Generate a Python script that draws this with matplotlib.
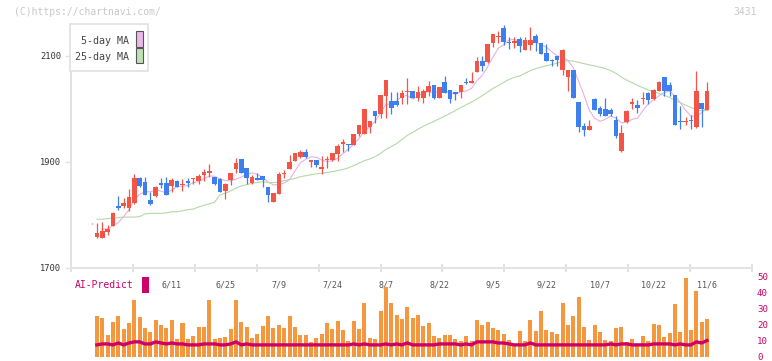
import numpy as np
import pandas as pd
import matplotlib
matplotlib.use("Agg")
import matplotlib.pyplot as plt
from matplotlib.patches import Rectangle

# daily candles 5/21 .. 11/6 (first one has no volume bar)
opens = [1784, 1758, 1757, 1767, 1780, 1817, 1816, 1814, 1822, 1870,
         1862, 1828, 1835, 1860, 1860, 1855, 1864, 1857, 1864, 1867,
         1864, 1875, 1880, 1872, 1868, 1846, 1865, 1887, 1906, 1889,
         1861, 1870, 1874, 1853, 1825, 1840, 1878, 1887, 1902, 1909,
         1919, 1899, 1904, 1886, 1903, 1904, 1914, 1933, 1934, 1932,
         1953, 1952, 1965, 1996, 1990, 2025, 2015, 2015, 2020, 2032,
         2034, 2020, 2021, 2032, 2045, 2021, 2051, 2036, 2032, 2032,
         2051, 2048, 2070, 2091, 2089, 2124, 2135, 2152, 2126, 2125,
         2131, 2111, 2120, 2138, 2125, 2106, 2091, 2100, 2074, 2061,
         2073, 2013, 1968, 1960, 2018, 2001, 1999, 1998, 1979, 1920,
         1975, 2009, 2007, 2019, 2029, 2018, 2034, 2060, 2045, 2026,
         1977, 1976, 1979, 1965, 2012, 1998]
highs = [1785, 1784, 1787, 1782, 1806, 1835, 1832, 1849, 1877, 1872,
         1872, 1843, 1854, 1869, 1872, 1869, 1865, 1867, 1869, 1870,
         1878, 1887, 1896, 1872, 1869, 1860, 1879, 1908, 1906, 1889,
         1875, 1879, 1874, 1853, 1841, 1881, 1884, 1913, 1917, 1923,
         1924, 1904, 1904, 1911, 1911, 1916, 1933, 1943, 1934, 1953,
         1969, 2000, 1977, 1996, 2026, 2055, 2031, 2032, 2035, 2059,
         2034, 2043, 2037, 2053, 2045, 2041, 2062, 2036, 2032, 2045,
         2058, 2069, 2097, 2099, 2123, 2141, 2146, 2159, 2136, 2136,
         2136, 2135, 2155, 2141, 2125, 2122, 2094, 2100, 2113, 2073,
         2073, 2013, 1974, 1979, 2021, 2006, 2020, 2002, 1987, 1969,
         1998, 2021, 2017, 2031, 2031, 2037, 2052, 2060, 2051, 2026,
         2006, 1985, 1988, 2072, 2012, 2050]
lows = [1783, 1757, 1757, 1763, 1779, 1809, 1813, 1808, 1820, 1853,
        1838, 1819, 1833, 1850, 1838, 1844, 1853, 1845, 1852, 1859,
        1859, 1864, 1872, 1857, 1844, 1831, 1857, 1879, 1879, 1859,
        1859, 1865, 1853, 1825, 1825, 1840, 1869, 1887, 1901, 1908,
        1908, 1891, 1891, 1877, 1889, 1902, 1902, 1919, 1921, 1932,
        1948, 1952, 1955, 1974, 1982, 1982, 1990, 2005, 2010, 2009,
        2020, 2015, 2012, 2025, 2018, 2020, 2029, 2012, 2017, 2021,
        2046, 2048, 2069, 2072, 2087, 2116, 2124, 2121, 2113, 2114,
        2108, 2111, 2111, 2109, 2103, 2091, 2080, 2080, 2064, 2033,
        2020, 1957, 1948, 1960, 1998, 1987, 1986, 1986, 1946, 1918,
        1974, 1999, 1993, 2009, 2010, 2016, 2033, 2024, 2024, 1969,
        1962, 1969, 1962, 1963, 1965, 1998]
closes = [1785, 1766, 1770, 1774, 1804, 1813, 1823, 1834, 1870, 1855,
          1838, 1821, 1853, 1857, 1838, 1866, 1853, 1858, 1860, 1869,
          1874, 1881, 1883, 1858, 1844, 1858, 1879, 1898, 1879, 1869,
          1872, 1866, 1866, 1838, 1841, 1877, 1879, 1899, 1917, 1919,
          1910, 1904, 1894, 1890, 1906, 1916, 1930, 1938, 1931, 1953,
          1969, 2000, 1977, 1986, 2026, 2055, 2001, 2007, 2029, 2034,
          2020, 2032, 2034, 2043, 2021, 2041, 2029, 2018, 2028, 2045,
          2048, 2053, 2091, 2080, 2123, 2141, 2136, 2126, 2124, 2128,
          2118, 2130, 2130, 2124, 2104, 2091, 2090, 2092, 2111, 2073,
          2021, 1966, 1960, 1967, 1998, 1991, 1986, 1990, 1948, 1954,
          1996, 2013, 2001, 2020, 2016, 2036, 2050, 2033, 2033, 1969,
          1975, 1977, 1978, 2034, 1999, 2034]

ma25_head = [1792, 1792, 1793, 1794, 1795, 1796, 1796, 1796, 1797, 1802,
             1803, 1803, 1803, 1804, 1806, 1806, 1808, 1810, 1811, 1815,
             1818, 1821, 1824]

volumes = [25.4, 24.2, 13.6, 21.7, 25.4, 17.3, 21.1, 35.4, 24.8, 17.9,
           15.4, 22.9, 19.8, 17.9, 22.9, 11.1, 21.1, 11.1, 12.9, 18.5,
           18.5, 35.4, 11.1, 11.7, 12.3, 17.3, 35.4, 21.7, 18.5, 11.7,
           14.2, 19.2, 25.4, 17.9, 19.8, 17.9, 25.4, 18.5, 13.6, 13.6,
           9.2, 11.7, 14.2, 21.1, 17.3, 22.3, 16.7, 9.8, 22.3, 17.3,
           33.6, 11.7, 11.1, 28.6, 43.6, 33.6, 26.1, 23.6, 31.1, 24.2,
           26.1, 19.2, 21.1, 12.9, 11.7, 13.6, 13.6, 11.1, 9.8, 12.9,
           9.8, 22.9, 19.8, 21.7, 17.9, 16.7, 14.2, 10.4, 7.9, 16.1,
           9.8, 22.9, 16.1, 28.6, 16.7, 15.5, 14.2, 33.6, 19.8, 25.4,
           37.3, 18.5, 10.4, 19.8, 15.4, 10.4, 9.8, 17.9, 18.5, 9.2,
           11.1, 7.3, 12.9, 9.8, 20.4, 19.8, 12.3, 14.8, 32.9, 15.6,
           49.2, 16.7, 41.1, 21.7, 23.6]
ai_predict = [7.3, 7.9, 7.9, 7.3, 8.5, 7.3, 8.5, 9.2, 9.2, 7.9,
              7.9, 9.2, 8.5, 7.9, 8.5, 7.9, 7.9, 7.3, 7.3, 7.3,
              7.9, 7.9, 7.9, 7.3, 7.3, 7.9, 9.2, 7.3, 7.9, 7.3,
              7.3, 7.3, 7.3, 7.3, 7.3, 7.3, 7.3, 7.3, 7.3, 7.3,
              7.3, 7.3, 7.3, 7.3, 7.3, 7.3, 7.3, 7.3, 7.9, 7.3,
              7.9, 7.3, 7.3, 7.3, 7.9, 7.3, 7.9, 7.3, 8.5, 7.3,
              7.3, 7.3, 7.3, 7.3, 7.9, 7.9, 7.9, 7.9, 7.3, 7.9,
              7.3, 9.2, 9.2, 9.2, 9.2, 8.5, 8.5, 7.9, 7.3, 7.3,
              7.3, 8.5, 7.3, 7.3, 7.3, 7.3, 7.3, 7.3, 7.3, 7.3,
              7.3, 7.3, 7.3, 7.3, 7.3, 7.3, 7.9, 7.3, 7.9, 7.9,
              7.3, 7.3, 7.3, 7.3, 7.9, 7.9, 7.9, 7.9, 7.3, 7.9,
              7.3, 7.3, 9.2, 8.5, 10.0]

date_labels = ['6/11', '6/25', '7/9', '7/24', '8/7', '8/22', '9/5', '9/22', '10/7', '10/22', '11/6']
date_index = [15, 25, 35, 45, 55, 65, 75, 85, 95, 105, 115]

UP, DOWN = '#f25546', '#3e7ff0'
MAGENTA = '#cc0066'
W, H = 772, 361

plt.rcParams['font.family'] = ['DejaVu Sans Mono']


def fig_box(x0, y0, x1, y1):
    return [x0 / W, 1 - y1 / H, (x1 - x0) / W, (y1 - y0) / H]


fig = plt.figure(figsize=(W / 100, H / 100), dpi=100)
fig.patch.set_facecolor('white')

x = np.arange(len(closes))
o, h, l, c = map(np.array, (opens, highs, lows, closes))
colors = np.where(c >= o, UP, DOWN)
xlim = (-3.83, 123.4)

# ---- price panel
ax = fig.add_axes(fig_box(71, 24, 752, 268))
ax.set_xlim(*xlim)
ax.set_ylim(1700, 2160)

ma5 = pd.Series(c).rolling(5, min_periods=1).mean()
ma25 = pd.Series(c, dtype=float).rolling(25).mean()
ma25.iloc[1:1 + len(ma25_head)] = ma25_head
ax.plot(x[2:], ma5[2:], color='#e8b0e8', lw=0.8, zorder=1)
ax.plot(x[1:], ma25[1:], color='#b5d9a5', lw=0.8, zorder=1)

ax.vlines(x, l, h, colors=colors, lw=0.9, zorder=2, clip_on=False)
body = np.maximum(np.abs(c - o), 1.6)
ax.bar(x, body, bottom=np.minimum(o, c), width=0.86, color=colors, zorder=3, clip_on=False)

for side in ('top', 'right'):
    ax.spines[side].set_visible(False)
for side in ('left', 'bottom'):
    ax.spines[side].set_color('#e2e2e2')
    ax.spines[side].set_linewidth(1.4)

ax.set_xticks(np.linspace(xlim[0], xlim[1], 12))
ax.tick_params(axis='x', which='major', length=6, direction='inout', color='#e2e2e2',
               width=1.4, labelbottom=False)
ax.set_xticks(date_index, minor=True)
ax.set_xticklabels(date_labels, minor=True)
ax.tick_params(axis='x', which='minor', length=0, pad=9, labelsize=6, labelcolor='#555555')

ax.set_yticks([1700, 1900, 2100])
ax.tick_params(axis='y', length=4.3, width=1, color='#e2e2e2', labelsize=6.3,
               labelcolor='#333333', pad=3)

# ---- volume / AI-predict panel
axv = fig.add_axes(fig_box(71, 277, 752, 356.5))
axv.patch.set_alpha(0)
axv.set_xlim(*xlim)
axv.set_ylim(0, 50)
axv.bar(x[1:], volumes, width=0.75, color='#f4973f', zorder=1)
axv.plot(x[1:], ai_predict, color=MAGENTA, lw=2.4, zorder=2)
for s in axv.spines.values():
    s.set_visible(False)
axv.set_xticks([])
axv.yaxis.tick_right()
axv.set_yticks([0, 10, 20, 30, 40, 50])
axv.tick_params(axis='y', length=0, pad=3.6, labelsize=6.6, labelcolor=MAGENTA)

# ---- header, legend, AI label
fig.text(14 / W, 1 - 12 / H, '(C)https://chartnavi.com/', color='#c8c8c8', fontsize=7, va='center')
fig.text(757 / W, 1 - 12 / H, '3431', color='#c8c8c8', fontsize=7, va='center', ha='right')

fig.text(75 / W, 1 - 285 / H, 'AI-Predict', color=MAGENTA, fontsize=7, va='center')
fig.add_artist(Rectangle((142 / W, 1 - 293 / H), 7 / W, 16 / H, transform=fig.transFigure,
                         facecolor=MAGENTA, edgecolor='none', zorder=5))

fig.add_artist(Rectangle((70 / W, 1 - 71 / H), 78 / W, 47 / H, transform=fig.transFigure,
                         facecolor='white', edgecolor='#e0e0e0', lw=1.2, zorder=5))
fig.text(129 / W, 1 - 40.5 / H, '5-day MA', color='#444444', fontsize=7.2, va='center',
         ha='right', zorder=6)
fig.text(129 / W, 1 - 57 / H, '25-day MA', color='#444444', fontsize=7.2, va='center',
         ha='right', zorder=6)
fig.add_artist(Rectangle((136 / W, 1 - 47 / H), 7 / W, 16 / H, transform=fig.transFigure,
                         facecolor='#ecb8ec', edgecolor='#555555', lw=0.8, zorder=6))
fig.add_artist(Rectangle((136 / W, 1 - 63 / H), 7 / W, 15 / H, transform=fig.transFigure,
                         facecolor='#bfe0b2', edgecolor='#555555', lw=0.8, zorder=6))

fig.savefig('out.png', dpi=100)
